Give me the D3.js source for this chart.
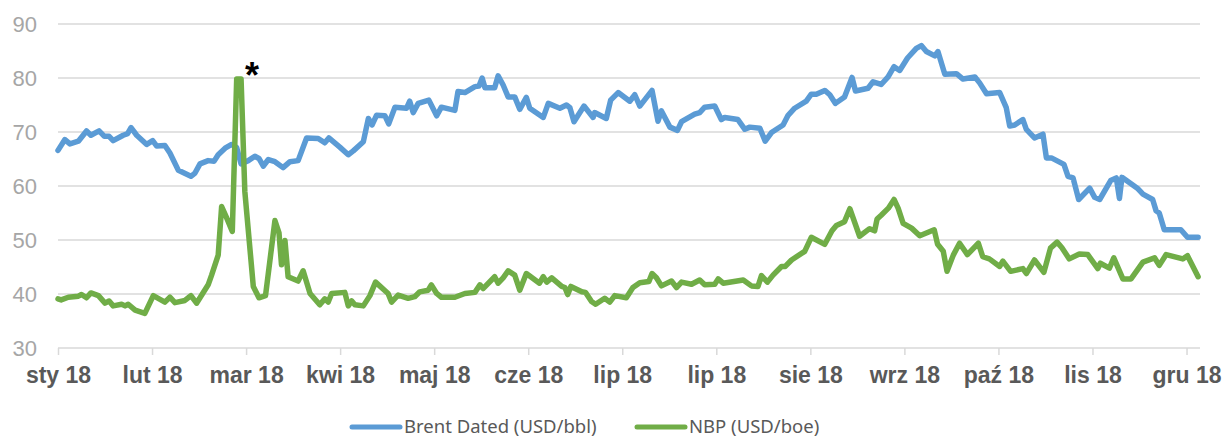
<!DOCTYPE html>
<html><head><meta charset="utf-8">
<script src="https://cdnjs.cloudflare.com/ajax/libs/d3/7.8.5/d3.min.js"></script>
<style>html,body{margin:0;padding:0;background:#fff;}svg{display:block;}</style>
</head><body>
<svg id="chart" width="1227" height="439"></svg>
<script>
// Tick labels (Excel date axis: start 2 Jan 2018, major unit 30 days)
const tickLabels = ["sty 18","lut 18","mar 18","kwi 18","maj 18","cze 18","lip 18","lip 18","sie 18","wrz 18","paź 18","lis 18","gru 18"];
const tickDays = [0,30,60,90,120,150,180,210,240,270,300,330,360];
const yTicks = [30,40,50,60,70,80,90];
const seriesNames = ["Brent Dated (USD/bbl)", "NBP (USD/boe)"];

// Brent Dated: day offset from 2 Jan 2018, value
const brentDays = [0,2.2,3.8,6.5,9.1,10.5,13.1,14.8,16.3,17.6,20.8,22.2,23.3,25.1,28.3,30.2,31.5,34.1,35.7,38.4,42.4,43.7,45.3,47.9,49.8,51.1,53.3,55.4,57,58.4,60.7,62.8,64.1,65.5,67.1,69.2,71.8,74,76.6,79.3,83,85.1,86.4,89.9,92.6,94.2,97.4,99,100.2,101.6,104.3,105.5,107.5,111.2,112.2,113.3,114.9,118.3,120.8,122.3,126.6,127.6,129.8,133,134.3,135.3,136.2,139.3,140.4,142,143.6,145.7,147.3,149.4,150.5,154.8,156.4,160.1,162.2,163.3,164.6,167.8,170.7,171.2,174.9,176.3,178.7,182.4,184,185.6,189.5,191.4,192.5,195.2,197.6,198.9,203.1,204.7,206.3,209.5,211.6,212.7,216.9,219.1,220.7,223.9,225.6,227.6,231.3,232.9,235,238.7,240.3,241.9,244.6,246.2,248,250.9,253.3,254.4,258.4,260,262.6,264.8,266.7,268.5,271,273.8,275.4,277,279.7,280.7,282.9,286.6,288.7,292.5,294,296.2,300.4,302.5,303.6,305.2,307.8,308.9,311.5,314.2,315.3,316.9,320.9,322.2,323.8,325.6,329.1,330.7,332.3,335.8,337.6,338.6,339.4,342.3,344.3,346.1,349.2,350.3,351.3,352.9,358.2,360.3,363.7];
const brentValues = [66.6,68.6,67.8,68.3,70.2,69.4,70.2,69.2,69.2,68.4,69.4,69.7,70.8,69.4,67.7,68.4,67.4,67.5,66.1,62.9,61.8,62.4,64.1,64.7,64.6,65.8,67.0,67.7,67.1,64.1,64.7,65.5,65.1,63.7,64.9,64.5,63.4,64.5,64.7,68.9,68.8,68.0,68.9,67.2,65.8,66.5,68.2,72.5,71.3,73.1,73.0,71.5,74.6,74.4,75.7,73.6,75.3,75.9,73.0,74.6,74.0,77.5,77.3,78.4,78.5,80.0,78.2,78.2,80.4,78.7,76.5,76.5,74.2,76.4,74.4,72.7,75.3,74.4,75.0,74.5,71.9,74.8,72.7,73.6,72.5,75.9,77.3,75.7,76.9,74.8,77.7,72.0,73.9,70.9,70.3,71.9,73.3,73.6,74.6,74.8,72.3,72.7,72.3,70.5,70.9,70.7,68.3,69.9,71.3,73.1,74.4,75.7,77.0,77.0,77.7,76.9,75.3,76.5,80.1,77.6,78.1,79.3,78.8,80.2,82.1,81.4,83.7,85.5,86.0,84.9,84.1,84.9,80.7,80.8,79.8,80.2,79.1,77.1,77.3,74.5,71.1,71.3,72.3,70.5,68.9,69.6,65.2,65.2,64.0,61.8,61.5,57.5,59.6,57.9,57.5,61.0,61.5,57.7,61.6,60.4,59.6,58.5,57.5,55.4,55.0,51.9,51.9,50.5,50.5];

// NBP: day offset from 2 Jan 2018, value
const nbpDays = [0,1,3.3,6.5,7.5,9.1,10.5,12.9,15,16.3,17.6,20.3,21.4,22.4,24.6,27.7,30.4,34.1,35.7,37.3,40.5,42.4,44.2,47.9,49,51.1,52.2,53.8,55.6,57,58.4,59.6,62.3,64.1,66.2,69.2,70.5,71.3,72.4,73.4,76.6,78.2,80.4,83.5,85.1,86.2,87.3,91.5,92.6,93.7,94.7,97.4,99.5,101.3,105.3,106.4,108.5,111.7,113.8,115.4,118.1,119.1,120.8,122.3,126.6,129.8,133,134.6,135.6,139.3,140.4,142,143.6,145.7,147.3,149.4,153.6,154.8,155.9,157.5,160.7,161.7,162.6,163.6,167.1,168.3,170.2,171.5,174.4,176,177.6,181.3,183.4,185.6,188.5,189.5,190.9,192.5,195.7,197.3,198.9,202.1,204.7,206.3,209.5,210.6,212.2,218.6,221.2,223.3,224.4,226.3,228.1,230.8,232,234,238.2,240.3,244.6,246.9,248.3,250.9,252.6,255.7,258.9,260.5,261.3,262.6,264.9,266.7,268,269.6,272.3,274.9,279.5,280.6,282.4,283.6,285.6,287.6,290.1,293.6,295,297.1,300.4,301.4,303.9,307.8,308.9,311.5,314.5,316.6,318.7,320.2,322.6,325.8,328.5,330.1,331.7,332.5,335.4,336.8,339.7,342.3,344.4,346.1,349.8,351.3,353.5,358.8,360.3,363.7];
const nbpValues = [39.1,38.9,39.4,39.6,39.9,39.3,40.2,39.7,38.3,38.7,37.8,38.1,37.8,38.1,37.0,36.4,39.7,38.5,39.4,38.4,38.8,39.7,38.3,41.7,43.5,47.2,56.2,54.1,51.6,79.8,79.8,59.0,41.4,39.3,39.7,53.6,51.3,45.4,49.9,43.2,42.4,44.3,40.1,38.0,39.1,38.5,40.1,40.3,37.8,38.7,38.0,37.8,39.7,42.2,40.1,38.5,39.8,39.2,39.5,40.4,40.7,41.7,40.1,39.4,39.4,40.1,40.3,41.7,41.0,43.2,42.0,43.0,44.3,43.5,40.7,43.8,42.0,43.2,42.2,43.0,41.4,41.2,39.9,41.4,40.4,40.3,38.6,38.1,39.2,38.5,39.7,39.3,41.2,42.1,42.3,43.8,43.0,41.5,42.4,41.2,42.2,41.8,42.6,41.7,41.8,42.8,42.0,42.6,41.5,41.4,43.4,42.2,43.5,45.1,45.1,46.3,47.9,50.5,49.2,51.7,52.7,53.4,55.8,50.7,52.1,51.7,53.9,54.6,55.9,57.5,55.9,53.1,52.2,50.8,51.9,49.2,47.9,44.2,47.2,49.4,47.3,49.4,46.9,46.5,45.1,46.1,44.2,44.7,43.8,46.3,44.0,48.5,49.6,48.6,46.5,47.4,47.3,46.0,44.7,45.7,44.8,46.7,42.8,42.8,44.5,45.9,46.7,45.3,47.3,46.5,47.1,43.2];

const svg = d3.select("#chart");
const plotLeft = 58, plotRight = 1200, plotTop = 24, plotBottom = 348;

const x = d3.scaleLinear().domain([0, 364.3]).range([plotLeft, plotRight]);
const y = d3.scaleLinear().domain([30, 90]).range([plotBottom, plotTop]);

// gridlines
svg.append("g").selectAll("line").data(yTicks).join("line")
  .attr("x1", plotLeft).attr("x2", plotRight)
  .attr("y1", d => y(d)).attr("y2", d => y(d))
  .attr("stroke", "#d9d9d9").attr("stroke-width", 1.5);

// y labels
svg.append("g").selectAll("text").data(yTicks).join("text")
  .attr("x", 37).attr("y", d => y(d)).attr("dy", "0.36em")
  .attr("text-anchor", "end")
  .attr("font-family", "Liberation Sans, Arial, sans-serif")
  .attr("font-size", 22).attr("fill", "#a6a6a6")
  .text(d => d);

// x axis
const xAxis = d3.axisBottom(x).tickValues(tickDays)
  .tickFormat((d, i) => tickLabels[i]).tickSize(7).tickSizeOuter(0);
const gx = svg.append("g").attr("transform", `translate(0,${plotBottom})`).call(xAxis);
gx.select(".domain").remove();
gx.selectAll(".tick line").attr("stroke", "#d9d9d9").attr("stroke-width", 1.5);
gx.selectAll(".tick text")
  .attr("y", 35).attr("dy", "0")
  .attr("font-family", "Liberation Sans, Arial, sans-serif")
  .attr("font-size", 23).attr("font-weight", "bold").attr("fill", "#595959");

const line = d3.line().x(d => x(d[0])).y(d => y(d[1]));
const brent = brentDays.map((d, i) => [d, brentValues[i]]);
const nbp = nbpDays.map((d, i) => [d, nbpValues[i]]);

svg.append("path").datum(brent).attr("d", line)
  .attr("fill", "none").attr("stroke", "#5b9bd5").attr("stroke-width", 5.5)
  .attr("stroke-linejoin", "round").attr("stroke-linecap", "round");
svg.append("path").datum(nbp).attr("d", line)
  .attr("fill", "none").attr("stroke", "#70ad47").attr("stroke-width", 5.5)
  .attr("stroke-linejoin", "round").attr("stroke-linecap", "round");

// asterisk annotation at NBP peak
const peakIdx = d3.maxIndex(nbpValues);
svg.append("text")
  .attr("x", x(nbpDays[peakIdx + 1]) + 4).attr("y", y(nbpValues[peakIdx]) + 9)
  .attr("font-family", "Liberation Sans, Arial, sans-serif")
  .attr("font-size", 36).attr("font-weight", "bold").attr("fill", "#000")
  .text("*");

// legend
const legend = [
  {name: seriesNames[0], color: "#5b9bd5", x: 352},
  {name: seriesNames[1], color: "#70ad47", x: 637}
];
const lg = svg.append("g");
legend.forEach(l => {
  lg.append("line").attr("x1", l.x).attr("x2", l.x + 48).attr("y1", 427).attr("y2", 427)
    .attr("stroke", l.color).attr("stroke-width", 5).attr("stroke-linecap", "round");
  lg.append("text").attr("x", l.x + 52).attr("y", 433)
    .attr("font-family", "Noto Sans, Open Sans, sans-serif")
    .attr("font-size", 18.5).attr("fill", "#595959").text(l.name);
});
</script>
</body></html>
